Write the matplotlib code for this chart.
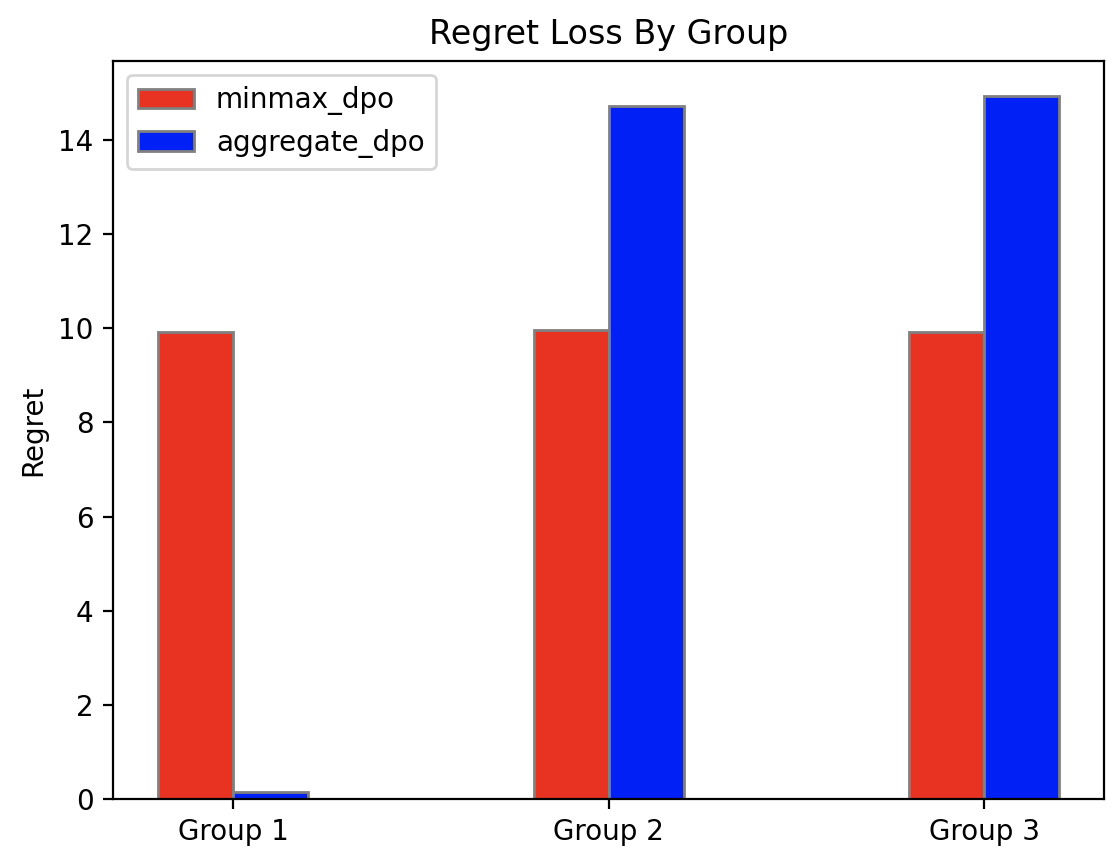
import numpy as np
import matplotlib
matplotlib.use("Agg")
import matplotlib.pyplot as plt

groups = ["Group 1", "Group 2", "Group 3"]
minmax_dpo = [9.92, 9.97, 9.92]
aggregate_dpo = [0.155, 14.72, 14.93]

width = 0.2
x = np.arange(len(groups))

fig = plt.figure(figsize=(5.6, 4.33), dpi=200)
ax = fig.add_axes([0.101, 0.0774, 0.885, 0.8522])
ax.bar(x, minmax_dpo, width, color="#E83323", edgecolor="grey", label="minmax_dpo")
ax.bar(x + width, aggregate_dpo, width, color="#0020F5", edgecolor="grey", label="aggregate_dpo")
ax.set_xticks(x + width / 2)
ax.set_xticklabels(groups)
ax.set_ylabel("Regret")
ax.set_title("Regret Loss By Group")
ax.legend(loc="upper left")
fig.savefig("out.png", dpi=200)
